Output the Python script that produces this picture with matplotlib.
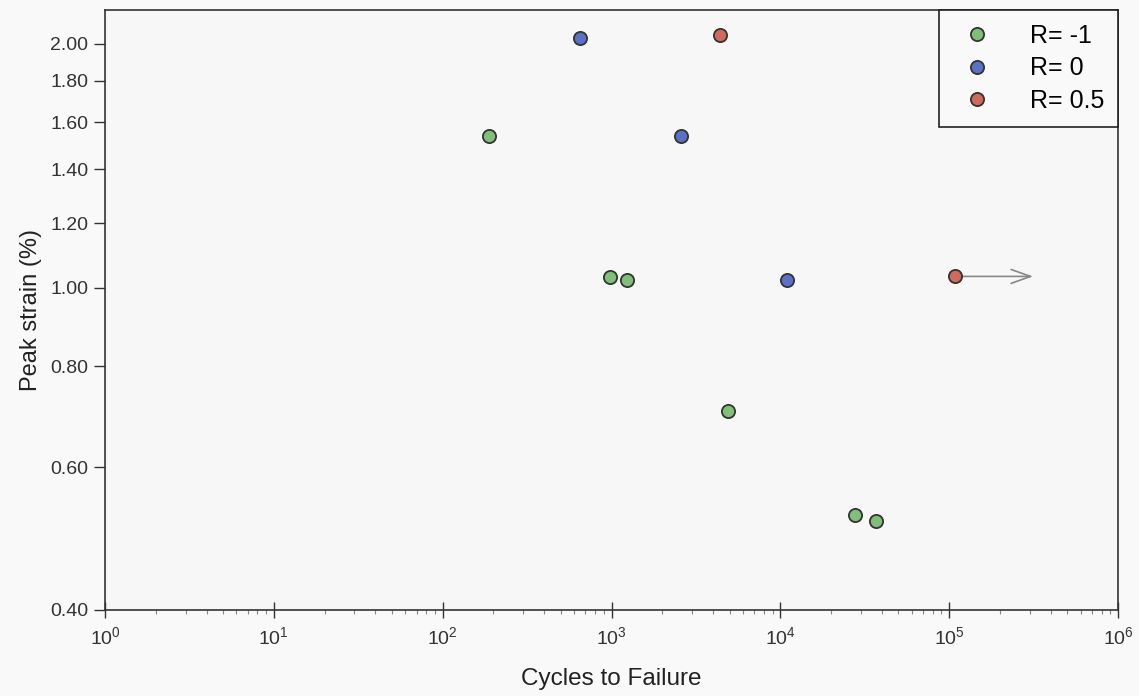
import matplotlib
matplotlib.use("Agg")
import matplotlib.pyplot as plt
from matplotlib.ticker import FixedLocator, FixedFormatter, NullFormatter, NullLocator

plt.rcParams['font.family'] = ['Liberation Sans', 'DejaVu Sans']

# Data
r_m1_cycles = [188, 980, 1236, 4900, 27700, 36900]
r_m1_strain = [1.54, 1.029, 1.021, 0.704, 0.524, 0.515]
r_0_cycles = [651, 2582, 10960]
r_0_strain = [2.03, 1.54, 1.021]
r_05_cycles = [4394, 108400]
r_05_strain = [2.05, 1.032]
runout_start = (108400, 1.032)
runout_end = (314000, 1.032)

y_ticks = [0.40, 0.60, 0.80, 1.00, 1.20, 1.40, 1.60, 1.80, 2.00]
y_labels = ['%.2f' % v for v in y_ticks]
x_ticks = [1, 10, 100, 1000, 10000, 100000, 1000000]
x_labels = [r'$\mathregular{10^{%d}}$' % i for i in range(7)]
x_minor = [m * d for d in x_ticks[:-1] for m in range(2, 10)]
labels = ['R= -1', 'R= 0', 'R= 0.5']
colors = ['#7fbf78', '#5a72c6', '#cf6a5c']

fig = plt.figure(figsize=(11.39, 6.96), dpi=100, facecolor='#f9f9f9')
ax = fig.add_axes([105/1139, 1-610/696, (1118-105)/1139, (610-10)/696])
ax.set_facecolor('#f7f7f7')

series = [(r_m1_cycles, r_m1_strain), (r_0_cycles, r_0_strain), (r_05_cycles, r_05_strain)]
for (xs, ys), lab, c in zip(series, labels, colors):
    ax.plot(xs, ys, 'o', ms=9.5, mfc=c, mec='#333333', mew=1.3, label=lab, zorder=3)

ax.annotate('', xy=runout_end, xytext=runout_start,
            arrowprops=dict(arrowstyle='->,head_length=1.4,head_width=0.5', color='#888888', lw=1.2,
                            shrinkA=6, shrinkB=0), zorder=2)

ax.set_xscale('log')
ax.set_yscale('log')
ax.set_xlim(1, 1e6)
ax.set_ylim(0.4, 2.2)
ax.yaxis.set_major_locator(FixedLocator(y_ticks))
ax.yaxis.set_major_formatter(FixedFormatter(y_labels))
ax.yaxis.set_minor_locator(NullLocator())
ax.xaxis.set_major_locator(FixedLocator(x_ticks))
ax.xaxis.set_major_formatter(FixedFormatter(x_labels))
ax.xaxis.set_minor_locator(FixedLocator(x_minor))
ax.xaxis.set_minor_formatter(NullFormatter())

ax.tick_params(axis='both', which='major', direction='out', length=8, width=1, colors='#333333',
               labelsize=14, labelcolor='#333333')
ax.tick_params(axis='y', which='major', pad=4)
ax.tick_params(axis='x', which='major', direction='inout', length=12, pad=6)
ax.tick_params(axis='x', which='minor', direction='out', length=3, width=0.8, colors='#888888')
for s in ax.spines.values():
    s.set_color('#333333')
    s.set_linewidth(1.2)

ax.set_xlabel('Cycles to Failure', fontsize=17.5, color='#222222', labelpad=14)
ax.set_ylabel('Peak strain (%)', fontsize=17, color='#222222', labelpad=6)

leg = ax.legend(loc='upper right', fontsize=18, frameon=True, fancybox=False, framealpha=1,
                edgecolor='#222222', facecolor='#f9f9f9', borderaxespad=0, handletextpad=1.1,
                borderpad=0.55, labelspacing=0.34, markerscale=1.0, handlelength=2.0)
leg.get_frame().set_linewidth(1.2)

fig.savefig('out.png', dpi=100, facecolor=fig.get_facecolor())
